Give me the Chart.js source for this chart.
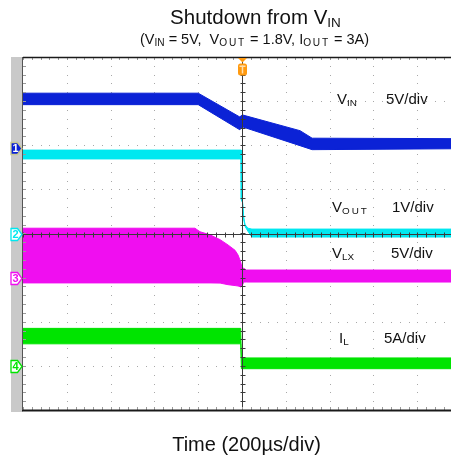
<!DOCTYPE html>
<html>
<head>
<meta charset="utf-8">
<script src="https://cdn.jsdelivr.net/npm/chart.js@4.4.1/dist/chart.umd.min.js"></script>
<style>
  html, body { margin: 0; padding: 0; background: #fff; overflow: hidden; }
  #wrap { position: relative; width: 451px; height: 462px; }
</style>
</head>
<body>
<div id="wrap"><canvas id="scope" width="451" height="462"></canvas></div>
<script>
// Time is in µs relative to the trigger point (200 µs/div, trigger at screen centre).
// Each trace is a noisy band, stored as its upper and lower envelope.

// CH1: V_IN, 5 V/div
const vinTime  = [-1000, -200, -10, 0, 265, 320, 954];
const vinUpper = [6.2, 6.2, 3.5, 3.75, 1.95, 1.1, 1.05];
const vinLower = [4.9, 4.9, 2.05, 2.4, 0.25, -0.2, -0.1];

// CH2: V_OUT, 1 V/div
const voutTime  = [-1000, -4, -3, 2, 8, 14, 27, 45, 954];
const voutUpper = [1.89, 1.89, 0.80, 0.74, 0.35, 0.20, 0.12, 0.10, 0.10];
const voutLower = [1.69, 1.69, 0.76, 0.70, 0.31, 0.16, 0.05, -0.08, -0.08];

// CH3: V_LX, 5 V/div
const vlxTime  = [-1000, -215, -192, -146, -100, -64, -32, -18, -6, 0, 8, 20, 954];
const vlxUpper = [5.6, 5.6, 5.2, 4.85, 4.3, 3.7, 3.1, 2.55, 1.75, 1.1, 1.05, 0.86, 0.86];
const vlxLower = [-0.6, -0.6, -0.6, -0.6, -0.62, -0.8, -0.9, -0.95, -1.05, -0.95, -0.5, -0.5, -0.5];

// CH4: I_L, 5 A/div
const ilTime  = [-1000, -6, -3, 954];
const ilUpper = [4.25, 4.25, 0.9, 0.9];
const ilLower = [2.5, 2.5, -0.32, -0.32];

// Channel set-up: units per division and ground position (divisions from centre)
const channels = [
  { id: '1', color: '#0b22d6', perDiv: 5, ground: 1.94, time: vinTime,  upper: vinUpper,  lower: vinLower },
  { id: '2', color: '#00e8f0', perDiv: 1, ground: 0,    time: voutTime, upper: voutUpper, lower: voutLower },
  { id: '3', color: '#f00ef0', perDiv: 5, ground: -1,   time: vlxTime,  upper: vlxUpper,  lower: vlxLower },
  { id: '4', color: '#00e400', perDiv: 5, ground: -3,   time: ilTime,   upper: ilUpper,   lower: ilLower }
];

// Text parts: [text, isSubscript, extra letter spacing]
const traceLabels = [
  { name: [['V', false], ['IN', true]],     scale: '5V/div', nameX: 337, scaleX: 386, base: 104 },
  { name: [['V', false], ['OUT', true, 2]], scale: '1V/div', nameX: 332, scaleX: 392, base: 211.5 },
  { name: [['V', false], ['LX', true]],     scale: '5V/div', nameX: 332, scaleX: 391, base: 258 },
  { name: [['I', false], ['L', true]],      scale: '5A/div', nameX: 339, scaleX: 384, base: 343 }
];

const titleParts    = [['Shutdown from V', false], ['IN', true]];
const subtitleParts = [['(V', false], ['IN', true], [' = 5V,  V', false], ['OUT', true, 1.8],
                       [' = 1.8V, I', false], ['OUT', true, 1.8], [' = 3A)', false]];
const xTitle = 'Time (200µs/div)';

const T_MIN = -1000, T_MAX = 954, DIV_T = 200;

const datasets = [];
channels.forEach(ch => {
  const toDiv = v => ch.ground + v / ch.perDiv;
  datasets.push({
    data: ch.time.map((t, i) => ({ x: t, y: toDiv(ch.upper[i]) })),
    borderColor: ch.color, borderWidth: 1, pointRadius: 0, fill: false, tension: 0
  });
  datasets.push({
    data: ch.time.map((t, i) => ({ x: t, y: toDiv(ch.lower[i]) })),
    borderColor: ch.color, borderWidth: 1, pointRadius: 0, fill: '-1',
    backgroundColor: ch.color, tension: 0
  });
});

const FONT = '"Liberation Sans", Arial, sans-serif';

function partWidth(ctx, txt, sub, sp, size, ratio) {
  ctx.font = (sub ? size * ratio : size) + 'px ' + FONT;
  return ctx.measureText(txt).width + (sp || 0) * txt.length;
}
function partsWidth(ctx, parts, size, ratio) {
  return parts.reduce((w, [txt, sub, sp]) => w + partWidth(ctx, txt, sub, sp, size, ratio), 0);
}
function drawParts(ctx, parts, x, base, size, ratio, color) {
  ctx.fillStyle = color;
  ctx.textBaseline = 'alphabetic';
  ctx.textAlign = 'left';
  parts.forEach(([txt, sub, sp]) => {
    ctx.font = (sub ? size * ratio : size) + 'px ' + FONT;
    const y = base + (sub ? size * 0.14 : 0);
    if (sp) {
      for (const chr of txt) {
        ctx.fillText(chr, x, y);
        x += ctx.measureText(chr).width + sp;
      }
    } else {
      ctx.fillText(txt, x, y);
      x += ctx.measureText(txt).width;
    }
  });
}

const scopePlugin = {
  id: 'scopeScreen',
  beforeDatasetsDraw(chart) {
    const ctx = chart.ctx, xs = chart.scales.x, ys = chart.scales.y, a = chart.chartArea;
    ctx.save();
    // grey side strip
    ctx.fillStyle = '#c9c9c9';
    ctx.fillRect(11, a.top, a.left - 11, a.bottom - a.top + 2);
    // dotted graticule
    ctx.fillStyle = '#a8a8a8';
    for (let t = T_MIN + DIV_T; t <= T_MAX; t += DIV_T) {
      if (t === 0) continue;
      const px = Math.round(xs.getPixelForValue(t));
      for (let d = -4; d <= 4.001; d += 0.2) {
        ctx.fillRect(px, Math.round(ys.getPixelForValue(d)), 1, 1);
      }
    }
    for (let d = -3; d <= 3; d++) {
      if (d === 0) continue;
      const py = Math.round(ys.getPixelForValue(d));
      for (let t = T_MIN; t <= T_MAX; t += DIV_T / 5) {
        ctx.fillRect(Math.round(xs.getPixelForValue(t)), py, 1, 1);
      }
    }
    ctx.restore();
  },
  afterDatasetsDraw(chart) {
    const ctx = chart.ctx, xs = chart.scales.x, ys = chart.scales.y, a = chart.chartArea;
    ctx.save();
    const cx = Math.round(xs.getPixelForValue(0)) + 0.5;
    const cy = Math.round(ys.getPixelForValue(0)) + 0.5;
    // centre crosshair with minor ticks
    ctx.strokeStyle = '#3a3a3a';
    ctx.lineWidth = 1;
    ctx.beginPath();
    ctx.moveTo(a.left, cy); ctx.lineTo(a.right, cy);
    ctx.moveTo(cx, a.top); ctx.lineTo(cx, a.bottom);
    for (let t = T_MIN; t <= T_MAX; t += DIV_T / 5) {
      const px = Math.round(xs.getPixelForValue(t)) + 0.5;
      ctx.moveTo(px, cy - 2); ctx.lineTo(px, cy + 3);
    }
    for (let d = -4; d <= 4.001; d += 0.2) {
      const py = Math.round(ys.getPixelForValue(d)) + 0.5;
      ctx.moveTo(cx - 2, py); ctx.lineTo(cx + 3, py);
    }
    ctx.stroke();
    // edge ticks
    ctx.strokeStyle = '#9a9a9a';
    ctx.beginPath();
    for (let t = T_MIN; t <= T_MAX; t += DIV_T / 5) {
      const px = Math.round(xs.getPixelForValue(t)) + 0.5;
      ctx.moveTo(px, a.top); ctx.lineTo(px, a.top + 3);
      ctx.moveTo(px, a.bottom); ctx.lineTo(px, a.bottom - 3);
    }
    for (let d = -4; d <= 4.001; d += 0.2) {
      const py = Math.round(ys.getPixelForValue(d)) + 0.5;
      ctx.moveTo(a.left, py); ctx.lineTo(a.left + 3, py);
    }
    ctx.stroke();
    // frame lines
    ctx.strokeStyle = '#1a1a1a';
    ctx.lineWidth = 1.5;
    ctx.beginPath(); ctx.moveTo(a.left, a.top + 0.5); ctx.lineTo(a.right, a.top + 0.5); ctx.stroke();
    ctx.lineWidth = 2;
    ctx.beginPath(); ctx.moveTo(a.left - 1, a.bottom + 0.5); ctx.lineTo(a.right, a.bottom + 0.5); ctx.stroke();
    ctx.strokeStyle = '#555';
    ctx.lineWidth = 1;
    ctx.beginPath(); ctx.moveTo(a.left - 0.5, a.top); ctx.lineTo(a.left - 0.5, a.bottom); ctx.stroke();

    // channel ground markers
    channels.forEach((ch, i) => {
      const py = Math.round(ys.getPixelForValue(ch.ground)) + 0.5;
      ctx.beginPath();
      ctx.moveTo(11, py - 6);
      ctx.lineTo(17.5, py - 6);
      ctx.lineTo(22, py);
      ctx.lineTo(17.5, py + 6);
      ctx.lineTo(11, py + 6);
      ctx.closePath();
      ctx.fillStyle = i === 0 ? ch.color : '#ffffff';
      ctx.fill();
      ctx.lineWidth = 1.3;
      ctx.strokeStyle = i === 0 ? '#c8c890' : ch.color;
      ctx.stroke();
      ctx.fillStyle = i === 0 ? '#ffffff' : ch.color;
      ctx.font = 'bold 11px ' + FONT;
      ctx.textAlign = 'center';
      ctx.textBaseline = 'middle';
      ctx.fillText(ch.id, 15.5, py + 0.5);
    });

    // trigger position marker
    ctx.fillStyle = '#ff9a10';
    ctx.beginPath();
    ctx.moveTo(cx - 4.5, a.top + 1); ctx.lineTo(cx + 4.5, a.top + 1); ctx.lineTo(cx, a.top + 5.5);
    ctx.closePath(); ctx.fill();
    ctx.beginPath();
    ctx.roundRect(cx - 4.5, a.top + 6.5, 9, 12, 2.5);
    ctx.fill();
    ctx.fillStyle = '#ffe0b0';
    ctx.fillRect(cx - 3, a.top + 8.5, 6, 1.5);
    ctx.fillRect(cx - 0.75, a.top + 8.5, 1.5, 8);

    // trace labels
    traceLabels.forEach(l => {
      drawParts(ctx, l.name, l.nameX, l.base, 15, 0.66, '#111');
      drawParts(ctx, [[l.scale, false]], l.scaleX, l.base, 15, 0.66, '#111');
    });
    ctx.restore();
  },
  afterDraw(chart) {
    const ctx = chart.ctx;
    ctx.save();
    let w = partsWidth(ctx, titleParts, 20.5, 0.66);
    drawParts(ctx, titleParts, 255.5 - w / 2, 24, 20.5, 0.66, '#111');
    w = partsWidth(ctx, subtitleParts, 14.5, 0.7);
    drawParts(ctx, subtitleParts, 254.5 - w / 2, 44, 14.5, 0.7, '#111');
    ctx.font = '20px ' + FONT;
    ctx.fillStyle = '#111';
    ctx.textAlign = 'center';
    ctx.textBaseline = 'alphabetic';
    ctx.fillText(xTitle, 246.5, 451);
    ctx.restore();
  }
};

new Chart(document.getElementById('scope'), {
  type: 'line',
  data: { datasets },
  options: {
    responsive: false,
    animation: false,
    devicePixelRatio: 1,
    layout: { padding: { left: 23, top: 57, right: 0, bottom: 52 } },
    scales: {
      x: { type: 'linear', min: T_MIN, max: T_MAX, display: false },
      y: { type: 'linear', min: -4, max: 4, display: false }
    },
    plugins: { legend: { display: false }, tooltip: { enabled: false }, title: { display: false } },
    elements: { line: { borderJoinStyle: 'round' } }
  },
  plugins: [scopePlugin]
});
</script>
</body>
</html>
